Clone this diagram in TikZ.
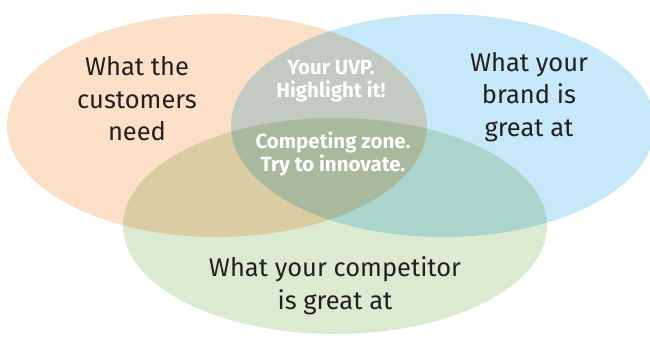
\documentclass[tikz,border=0pt]{standalone}
\usepackage{fontspec}
\setmainfont{Fira Sans}
\usetikzlibrary{shapes.geometric}
\definecolor{corange}{RGB}{252,223,199}
\definecolor{cblue}{RGB}{198,232,248}
\definecolor{cgreen}{RGB}{221,234,210}
\definecolor{ctext}{RGB}{35,31,32}
\tikzset{
  circ/.style={ellipse, inner sep=0pt, draw=none},
  big/.style={align=center, text=ctext, font=\fontsize{25.5}{32.5}\selectfont, inner sep=0pt},
  small/.style={align=center, text=white, font=\bfseries\fontsize{20.5}{23.5}\selectfont, inner sep=0pt},
}
\begin{document}
\begin{tikzpicture}[x=1pt,y=-1pt]
\useasboundingbox (0,0) rectangle (650,338);
\begin{scope}[blend group=multiply]
\node[circ, fill=corange, minimum width=420pt, minimum height=223pt] (need) at (217,125.5) {};
\node[circ, fill=cblue, minimum width=424pt, minimum height=223pt] (brand) at (443,125.5) {};
\node[circ, fill=cgreen, minimum width=424pt, minimum height=216pt] (comp) at (335,226) {};
\end{scope}
\node[big] (t1) at (137,99) {What the\\customers\\need};
\node[big] (t2) at (529,97) {What your\\brand is\\great at};
\node[big] (t3) at (335,286) {What your competitor\\is great at};
\node[small] (t4) at (331,81) {Your UVP.\\Highlight it!};
\node[small] (t5) at (333,154) {Competing zone.\\Try to innovate.};
\end{tikzpicture}
\end{document}
